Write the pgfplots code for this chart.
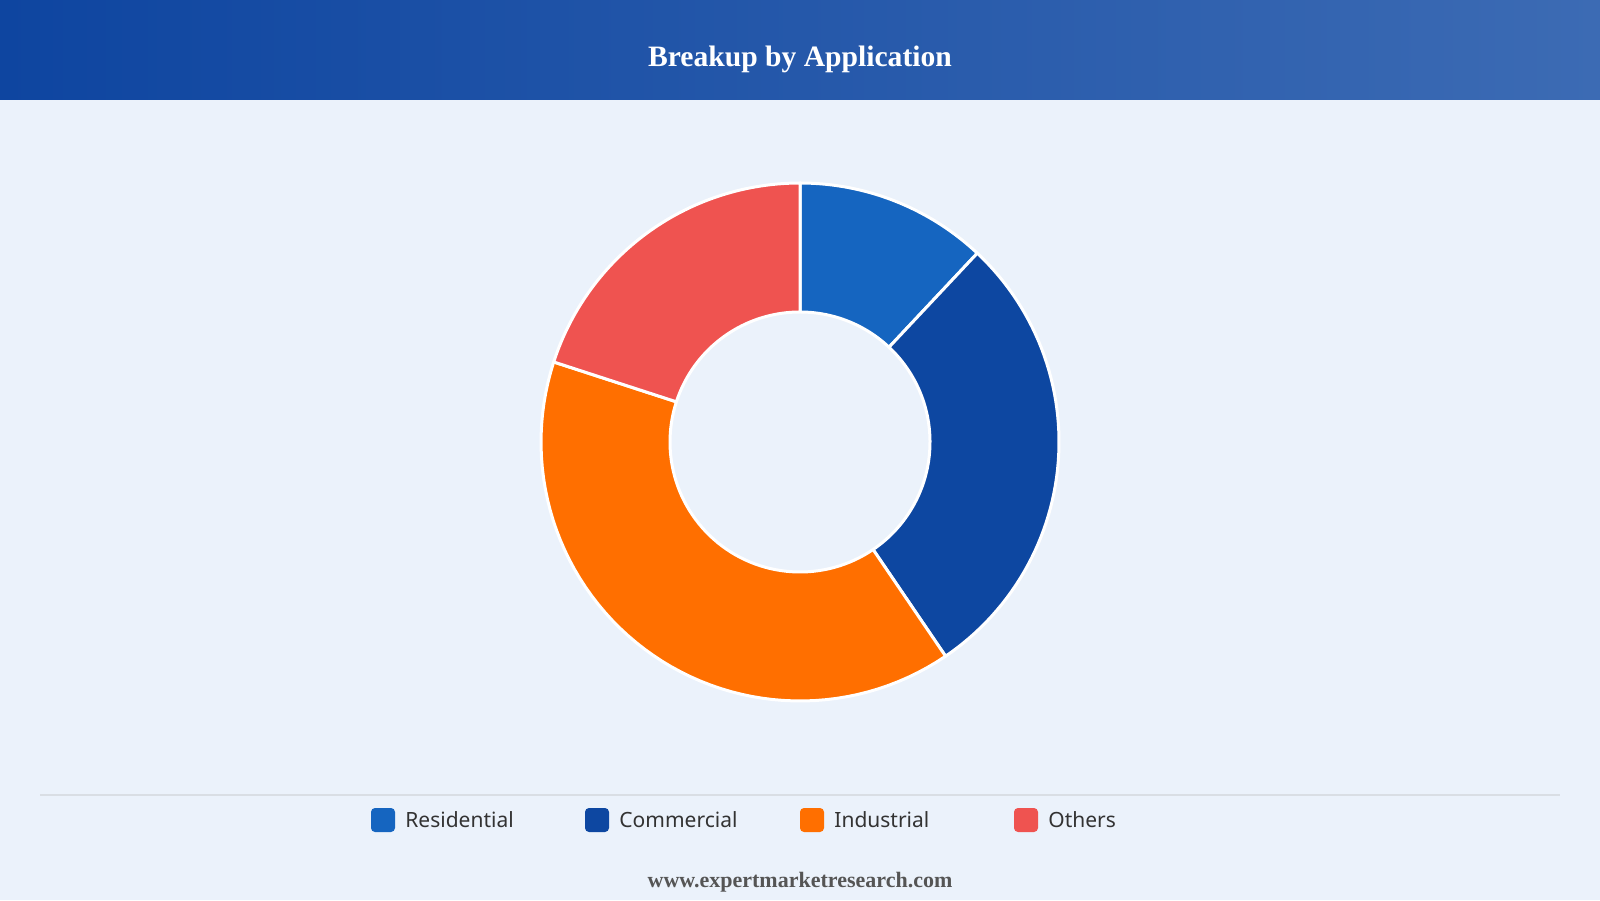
\documentclass[border=0pt]{standalone}
\usepackage{pgfplots}
\pgfplotsset{compat=1.18}
\usepackage{pgfplotstable}
\usepackage{fontspec}
\setmainfont{Liberation Serif}
\newfontfamily\legendfont{Noto Sans}
\definecolor{bg}{HTML}{EBF2FB}
\definecolor{hdrL}{HTML}{0E45A0}
\definecolor{hdrR}{HTML}{3C6BB4}
\definecolor{cRes}{HTML}{1565C0}
\definecolor{cCom}{HTML}{0D47A1}
\definecolor{cInd}{HTML}{FF6F00}
\definecolor{cOth}{HTML}{EF5350}
\definecolor{txt}{HTML}{333333}
\definecolor{foot}{HTML}{555555}
\definecolor{sep}{HTML}{D9DEE4}

\pgfplotstableread{
label value
Residential 12.0
Commercial 28.5
Industrial 39.5
Others 20.0
}\sharetable

\newcommand\getval[2]{\pgfplotstablegetelem{#1}{value}\of\sharetable\edef#2{\pgfplotsretval}}

% annular sector from angle #1 to #2 (degrees, clockwise from top)
\newcommand\sector[3]{%
\addplot[fill=#3, draw=white, line width=1.5pt, line join=round,
  samples at={0,1,...,60,100,101,...,160}, variable=\t]
 ({800+ifthenelse(\t<80,259,130)*sin(ifthenelse(\t<80,#1+(#2-#1)*\t/60,#2-(#2-#1)*(\t-100)/60))},
  {458+ifthenelse(\t<80,259,130)*cos(ifthenelse(\t<80,#1+(#2-#1)*\t/60,#2-(#2-#1)*(\t-100)/60))}) -- cycle;}

\begin{document}
\begin{tikzpicture}
\getval{0}\vA
\getval{1}\vB
\getval{2}\vC
\getval{3}\vD
\pgfmathsetmacro\aA{0}
\pgfmathsetmacro\aB{\aA+3.6*\vA}
\pgfmathsetmacro\aC{\aB+3.6*\vB}
\pgfmathsetmacro\aD{\aC+3.6*\vC}
\pgfmathsetmacro\aE{\aD+3.6*\vD}
\begin{scope}[x=0.5pt,y=0.5pt]
  \useasboundingbox (0,0) rectangle (1600,900);
  \fill[bg] (0,0) rectangle (1600,900);
  \shade[left color=hdrL, right color=hdrR] (0,800) rectangle (1600,900);
\end{scope}
\begin{axis}[
  at={(0,0)}, anchor=south west,
  width=800pt, height=450pt, scale only axis,
  xmin=0, xmax=1600, ymin=0, ymax=900,
  hide axis, clip=false,
]
\sector{\aA}{\aB}{cRes}
\sector{\aB}{\aC}{cCom}
\sector{\aC}{\aD}{cInd}
\sector{\aD}{\aE}{cOth}
\end{axis}
\begin{scope}[x=0.5pt,y=0.5pt]
  \node[anchor=base, text=white, font=\bfseries\fontsize{14.8}{17}\selectfont] at (800,833) {Breakup by Application};
  \draw[sep, line width=1pt] (40,105) -- (1560,105);
  \foreach \x/\c/\l in {371/cRes/Residential, 585/cCom/Commercial, 800/cInd/Industrial, 1014/cOth/Others} {
    \fill[\c, rounded corners=2pt] (\x,68) rectangle ++(24,24);
    \node[anchor=west, inner sep=0pt, text=txt, font=\legendfont\fontsize{10.5}{12}\selectfont] at (\x+34,80) {\l};
  }
  \node[text=foot, font=\bfseries\fontsize{11}{13}\selectfont] at (800,18) {www.expertmarketresearch.com};
\end{scope}
\end{tikzpicture}
\end{document}
